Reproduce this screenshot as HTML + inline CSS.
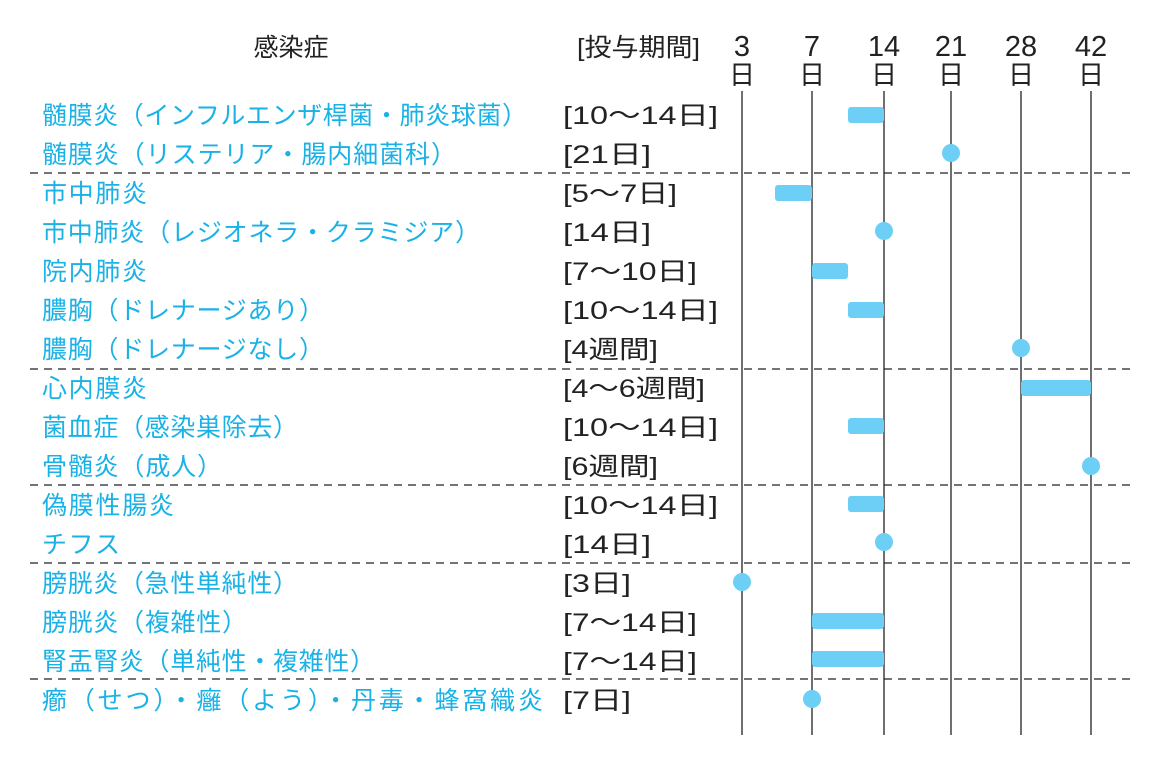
<!DOCTYPE html>
<html><head><meta charset="utf-8"><style>
html,body{margin:0;padding:0;background:#fff;}
svg{display:block;}
text{font-family:"Liberation Sans","Noto Sans CJK JP",sans-serif;font-size:25px;}
.b{fill:#1ab2e6;}
.k{fill:#222;}
</style></head><body>
<svg width="1160" height="780" viewBox="0 0 1160 780">
<g stroke="#222" stroke-width="1.3">
<line x1="742" y1="91" x2="742" y2="735"/>
<line x1="812" y1="91" x2="812" y2="735"/>
<line x1="884" y1="91" x2="884" y2="735"/>
<line x1="951" y1="91" x2="951" y2="735"/>
<line x1="1021" y1="91" x2="1021" y2="735"/>
<line x1="1091" y1="91" x2="1091" y2="735"/>
</g>
<g stroke="#222" stroke-width="1.3" stroke-dasharray="8,6">
<line x1="30" y1="173" x2="1130" y2="173"/>
<line x1="30" y1="369" x2="1130" y2="369"/>
<line x1="30" y1="485" x2="1130" y2="485"/>
<line x1="30" y1="563" x2="1130" y2="563"/>
<line x1="30" y1="679" x2="1130" y2="679"/>
</g>
<text class="k" x="291" y="56" text-anchor="middle">感染症</text>
<text class="k" x="577" y="56" textLength="123" lengthAdjust="spacingAndGlyphs">[投与期間]</text>
<g class="k" text-anchor="middle">
<text x="742" y="56" style="font-size:29px">3</text><text x="742" y="84" style="font-size:26px">日</text>
<text x="812" y="56" style="font-size:29px">7</text><text x="812" y="84" style="font-size:26px">日</text>
<text x="884" y="56" style="font-size:29px">14</text><text x="884" y="84" style="font-size:26px">日</text>
<text x="951" y="56" style="font-size:29px">21</text><text x="951" y="84" style="font-size:26px">日</text>
<text x="1021" y="56" style="font-size:29px">28</text><text x="1021" y="84" style="font-size:26px">日</text>
<text x="1091" y="56" style="font-size:29px">42</text><text x="1091" y="84" style="font-size:26px">日</text>
</g>
<g class="b" style="font-size:26px">
<text x="42" y="124" textLength="485">髄膜炎（インフルエンザ桿菌・肺炎球菌）</text>
<text x="42" y="163" textLength="414">髄膜炎（リステリア・腸内細菌科）</text>
<text x="42" y="202" textLength="105">市中肺炎</text>
<text x="42" y="241" textLength="438">市中肺炎（レジオネラ・クラミジア）</text>
<text x="42" y="280" textLength="105">院内肺炎</text>
<text x="42" y="319" textLength="282">膿胸（ドレナージあり）</text>
<text x="42" y="358" textLength="282">膿胸（ドレナージなし）</text>
<text x="42" y="397" textLength="105">心内膜炎</text>
<text x="42" y="436" textLength="256">菌血症（感染巣除去）</text>
<text x="42" y="475" textLength="180">骨髄炎（成人）</text>
<text x="42" y="514" textLength="132">偽膜性腸炎</text>
<text x="42" y="553" textLength="78">チフス</text>
<text x="42" y="592" textLength="256">膀胱炎（急性単純性）</text>
<text x="42" y="631" textLength="205">膀胱炎（複雑性）</text>
<text x="42" y="670" textLength="333">腎盂腎炎（単純性・複雑性）</text>
<text x="42" y="709" textLength="501">癤（せつ）・癰（よう）・丹毒・蜂窩織炎</text>
</g>
<g class="k" style="font-size:26px">
<text x="563" y="124" textLength="155" lengthAdjust="spacingAndGlyphs">[10〜14日]</text>
<text x="563" y="163" textLength="88" lengthAdjust="spacingAndGlyphs">[21日]</text>
<text x="563" y="202" textLength="114" lengthAdjust="spacingAndGlyphs">[5〜7日]</text>
<text x="563" y="241" textLength="88" lengthAdjust="spacingAndGlyphs">[14日]</text>
<text x="563" y="280" textLength="134" lengthAdjust="spacingAndGlyphs">[7〜10日]</text>
<text x="563" y="319" textLength="155" lengthAdjust="spacingAndGlyphs">[10〜14日]</text>
<text x="563" y="358" textLength="95" lengthAdjust="spacingAndGlyphs">[4週間]</text>
<text x="563" y="397" textLength="142" lengthAdjust="spacingAndGlyphs">[4〜6週間]</text>
<text x="563" y="436" textLength="155" lengthAdjust="spacingAndGlyphs">[10〜14日]</text>
<text x="563" y="475" textLength="95" lengthAdjust="spacingAndGlyphs">[6週間]</text>
<text x="563" y="514" textLength="155" lengthAdjust="spacingAndGlyphs">[10〜14日]</text>
<text x="563" y="553" textLength="88" lengthAdjust="spacingAndGlyphs">[14日]</text>
<text x="563" y="592" textLength="68" lengthAdjust="spacingAndGlyphs">[3日]</text>
<text x="563" y="631" textLength="134" lengthAdjust="spacingAndGlyphs">[7〜14日]</text>
<text x="563" y="670" textLength="134" lengthAdjust="spacingAndGlyphs">[7〜14日]</text>
<text x="563" y="709" textLength="68" lengthAdjust="spacingAndGlyphs">[7日]</text>
</g>
<g fill="#6dcff6">
<rect x="848" y="107" width="36" height="16" rx="3"/>
<circle cx="951" cy="153" r="9"/>
<rect x="775" y="185" width="37" height="16" rx="3"/>
<circle cx="884" cy="231" r="9"/>
<rect x="812" y="263" width="36" height="16" rx="3"/>
<rect x="848" y="302" width="36" height="16" rx="3"/>
<circle cx="1021" cy="348" r="9"/>
<rect x="1021" y="380" width="70" height="16" rx="3"/>
<rect x="848" y="418" width="36" height="16" rx="3"/>
<circle cx="1091" cy="466" r="9"/>
<rect x="848" y="496" width="36" height="16" rx="3"/>
<circle cx="884" cy="542" r="9"/>
<circle cx="742" cy="582" r="9"/>
<rect x="812" y="613" width="72" height="16" rx="3"/>
<rect x="812" y="651" width="72" height="16" rx="3"/>
<circle cx="812" cy="699" r="9"/>
</g>
</svg>
</body></html>
